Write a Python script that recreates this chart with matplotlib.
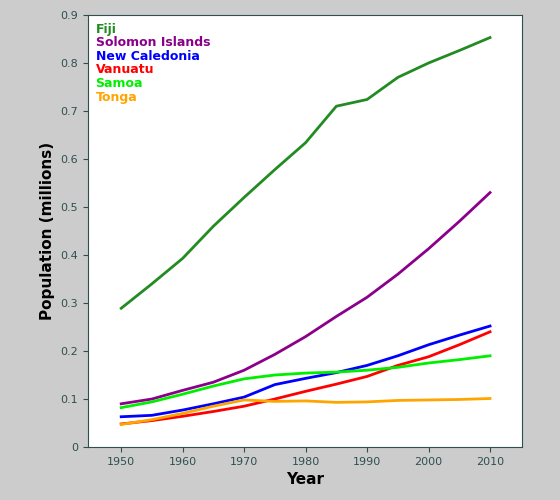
import matplotlib
matplotlib.use("Agg")
import matplotlib.pyplot as plt

years = [1950,1955,1960,1965,1970,1975,1980,1985,1990,1995,2000,2005,2010]
fiji = [0.289,0.34,0.393,0.46,0.52,0.578,0.634,0.71,0.724,0.77,0.80,0.826,0.853]
solomon = [0.09,0.10,0.118,0.135,0.16,0.193,0.23,0.272,0.312,0.36,0.413,0.47,0.53]
newcal = [0.063,0.066,0.077,0.09,0.104,0.13,0.143,0.155,0.17,0.19,0.213,0.233,0.252]
vanuatu = [0.048,0.055,0.064,0.074,0.085,0.1,0.116,0.131,0.147,0.17,0.188,0.213,0.24]
samoa = [0.082,0.094,0.11,0.127,0.142,0.15,0.154,0.156,0.16,0.166,0.175,0.182,0.19]
tonga = [0.047,0.057,0.07,0.085,0.098,0.095,0.096,0.093,0.094,0.097,0.098,0.099,0.101]
names = ["Fiji","Solomon Islands","New Caledonia","Vanuatu","Samoa","Tonga"]
colors = ["#228B22","#8B008B","#0000FF","#FF0000","#00EE00","#FFA500"]
series = [fiji, solomon, newcal, vanuatu, samoa, tonga]

fig = plt.figure(figsize=(5.6,5.0), dpi=100, facecolor="#cccccc")
ax = fig.add_axes([88/560, 53/500, 434/560, 432/500])
for n, c, s in zip(names, colors, series):
    ax.plot(years, s, color=c, lw=2, label=n)
ax.set_xlim(1944.6, 2015.2)
ax.set_ylim(0, 0.9)
ax.set_xticks([1950,1960,1970,1980,1990,2000,2010])
ax.set_yticks([0,0.1,0.2,0.3,0.4,0.5,0.6,0.7,0.8,0.9])
ax.set_yticklabels(["0","0.1","0.2","0.3","0.4","0.5","0.6","0.7","0.8","0.9"])
ax.tick_params(labelsize=8, colors="#2f4f4f")
for sp in ax.spines.values():
    sp.set_color("#2f4f4f")
ax.set_xlabel("Year", fontsize=11, fontweight="bold")
ax.set_ylabel("Population (millions)", fontsize=11, fontweight="bold")
leg = ax.legend(loc="upper left", handlelength=0, handletextpad=0, frameon=False,
                labelcolor="linecolor", prop={"weight":"bold","size":9},
                borderaxespad=0.2, labelspacing=0.05)
for h in leg.legend_handles:
    h.set_visible(False)
fig.savefig("out.png", facecolor=fig.get_facecolor())
